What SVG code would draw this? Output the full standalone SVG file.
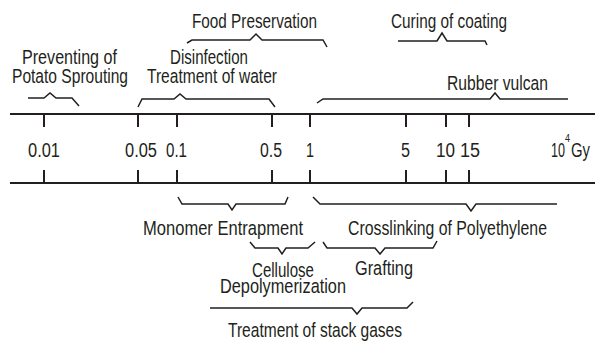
<svg xmlns="http://www.w3.org/2000/svg" width="595" height="341" viewBox="0 0 595 341">
<style>
text{font-family:"Liberation Sans",Arial,sans-serif;font-size:20.5px;fill:#231f20}
.ax{stroke:#231f20;stroke-width:2;fill:none}
.br{stroke:#231f20;stroke-width:1.5;fill:none;stroke-linejoin:miter}
.sup{font-size:11px}
</style>
<rect width="595" height="341" fill="#fff"/>
<g id="axis">
<line class="ax" x1="10" y1="114" x2="595" y2="114"/>
<line class="ax" x1="10" y1="183" x2="595" y2="183"/>
<path class="ax" d="M44,114V127M138,114V127M177,114V127M272,114V127M310,114V127M406,114V127M446,114V127M469,114V127M44,170V183M138,170V183M177,170V183M272,170V183M310,170V183M406,170V183M446,170V183M469,170V183"/>
<text x="28" y="157" textLength="32" lengthAdjust="spacingAndGlyphs">0.01</text>
<text x="125" y="157" textLength="32" lengthAdjust="spacingAndGlyphs">0.05</text>
<text x="166" y="157" textLength="21" lengthAdjust="spacingAndGlyphs">0.1</text>
<text x="260" y="157" textLength="22" lengthAdjust="spacingAndGlyphs">0.5</text>
<text x="306" y="157" textLength="8" lengthAdjust="spacingAndGlyphs">1</text>
<text x="401" y="157" textLength="9" lengthAdjust="spacingAndGlyphs">5</text>
<text x="436" y="157" textLength="19" lengthAdjust="spacingAndGlyphs">10</text>
<text x="460" y="157" textLength="20" lengthAdjust="spacingAndGlyphs">15</text>
<text x="551" y="157" textLength="14" lengthAdjust="spacingAndGlyphs">10</text>
<text class="sup" x="565" y="142" textLength="5" lengthAdjust="spacingAndGlyphs">4</text>
<text x="571" y="157" textLength="19" lengthAdjust="spacingAndGlyphs">Gy</text>
</g>
<g id="connectors">
<polyline class="br" points="28,98 44,98 50,93 56,98 72,98 79,106"/>
<polyline class="br" points="138,107 142,99 174,99 180,94 186,99 269,99 275,107"/>
<polyline class="br" points="187,43 192,40 250,40 256,34 262,40 323,40 327,47"/>
<polyline class="br" points="398,41 437,41 442,33 447,41 485,41 487,45"/>
<polyline class="br" points="317,103 323,99 490,99 495,93 500,99 568,99"/>
<polyline class="br" points="178,197 182,204 228,204 232,210 236,204 285,204 288,197"/>
<polyline class="br" points="313,197 320,204 466,204 471,211 476,204 557,204"/>
<polyline class="br" points="250,242 255,248 278,248 282,254 286,248 308,248 315,242"/>
<polyline class="br" points="323,242 327,248 375,248 380,254 385,248 433,248 437,241"/>
<polyline class="br" points="210,308 352,308 357,314 362,308 407,308 413,302"/>
</g>
<g id="potato"><text x="22" y="64" textLength="95" lengthAdjust="spacingAndGlyphs">Preventing of</text><text x="12" y="83" textLength="116" lengthAdjust="spacingAndGlyphs">Potato Sprouting</text></g>
<g id="disinfection"><text x="170" y="64" textLength="78" lengthAdjust="spacingAndGlyphs">Disinfection</text><text x="147" y="83" textLength="130" lengthAdjust="spacingAndGlyphs">Treatment of water</text></g>
<g id="food"><text x="192" y="28" textLength="125" lengthAdjust="spacingAndGlyphs">Food Preservation</text></g>
<g id="curing"><text x="391" y="28" textLength="116" lengthAdjust="spacingAndGlyphs">Curing of coating</text></g>
<g id="rubber"><text x="447" y="90" textLength="101" lengthAdjust="spacingAndGlyphs">Rubber vulcan</text></g>
<g id="monomer"><text x="143" y="235" textLength="160" lengthAdjust="spacingAndGlyphs">Monomer Entrapment</text></g>
<g id="crosslinking"><text x="348" y="235" textLength="199" lengthAdjust="spacingAndGlyphs">Crosslinking of Polyethylene</text></g>
<g id="cellulose"><text x="252" y="277" textLength="62" lengthAdjust="spacingAndGlyphs">Cellulose</text><text x="220" y="293" textLength="126" lengthAdjust="spacingAndGlyphs">Depolymerization</text></g>
<g id="grafting"><text x="355" y="275" textLength="58" lengthAdjust="spacingAndGlyphs">Grafting</text></g>
<g id="stack"><text x="228" y="337" textLength="174" lengthAdjust="spacingAndGlyphs">Treatment of stack gases</text></g>
</svg>
